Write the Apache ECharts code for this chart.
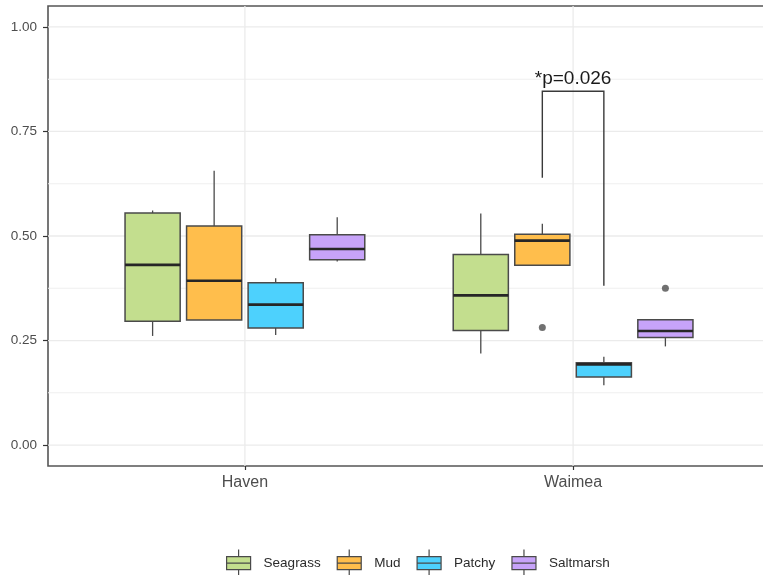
<!DOCTYPE html>
<html>
<head>
<meta charset="utf-8">
<title>Habitat proportions by site</title>
<script src="https://cdn.jsdelivr.net/npm/echarts@6/dist/echarts.min.js"></script>
<style>
  html, body { margin: 0; padding: 0; background: #ffffff; }
  #chart { width: 763px; height: 575px; }
</style>
</head>
<body>
<div id="chart"></div>
<script>
// Sites along the x axis and habitat groups dodged within each site
const sites = ['Haven', 'Waimea'];
const habitats = ['Seagrass', 'Mud', 'Patchy', 'Saltmarsh'];

// Box statistics per site: [lower whisker, Q1, median, Q3, upper whisker]
const seagrass  = [[0.261, 0.296, 0.431, 0.555, 0.561], [0.219, 0.274, 0.358, 0.456, 0.554]];
const mud       = [[0.299, 0.299, 0.393, 0.524, 0.656], [0.430, 0.430, 0.489, 0.504, 0.529]];
const patchy    = [[0.263, 0.280, 0.336, 0.388, 0.399], [0.143, 0.163, 0.193, 0.197, 0.211]];
const saltmarsh = [[0.439, 0.443, 0.469, 0.503, 0.545], [0.236, 0.257, 0.273, 0.300, 0.300]];

// Outlying points: [site index, habitat, value]
const outliers = [[1, 'Mud', 0.281], [1, 'Saltmarsh', 0.375]];

// Axis ticks
const yTicks = [0, 0.25, 0.5, 0.75, 1];
const yMinor = [0.125, 0.375, 0.625, 0.875];

// Significance bracket between Waimea Mud and Waimea Patchy
const sigLabel = '*p=0.026';
const sigPair = [1, 'Mud', 'Patchy'];
const sigBarY = 0.846;
const sigTailEnds = [0.639, 0.381];

const statsByHabitat = { Seagrass: seagrass, Mud: mud, Patchy: patchy, Saltmarsh: saltmarsh };
const fills = { Seagrass: '#c3de8e', Mud: '#ffbe4c', Patchy: '#4dd1fd', Saltmarsh: '#c7a3f9' };

const DODGE = 0.1875;   // slot width of each habitat within a site
const BOX_W = 0.168;    // drawn box width in x units
const EDGE = '#4a4a4a';

function dodgeX(siteIdx, habitat) {
  return siteIdx + 1 + (habitats.indexOf(habitat) - 1.5) * DODGE;
}

function renderBox(params, api) {
  const x = api.value(0);
  const lo = api.coord([x, api.value(1)]);
  const q1 = api.coord([x, api.value(2)]);
  const md = api.coord([x, api.value(3)]);
  const q3 = api.coord([x, api.value(4)]);
  const hi = api.coord([x, api.value(5)]);
  const xl = api.coord([x - BOX_W / 2, 0])[0];
  const xr = api.coord([x + BOX_W / 2, 0])[0];
  const children = [];
  if (hi[1] < q3[1] - 0.5) {
    children.push({ type: 'line', shape: { x1: hi[0], y1: hi[1], x2: q3[0], y2: q3[1] },
      style: { stroke: EDGE, lineWidth: 1.3 } });
  }
  if (lo[1] > q1[1] + 0.5) {
    children.push({ type: 'line', shape: { x1: q1[0], y1: q1[1], x2: lo[0], y2: lo[1] },
      style: { stroke: EDGE, lineWidth: 1.3 } });
  }
  children.push({ type: 'rect', shape: { x: xl, y: q3[1], width: xr - xl, height: q1[1] - q3[1] },
    style: { fill: api.visual('color'), stroke: EDGE, lineWidth: 1.5 } });
  children.push({ type: 'line', shape: { x1: xl, y1: md[1], x2: xr, y2: md[1] },
    style: { stroke: '#262626', lineWidth: 2.6 } });
  return { type: 'group', children: children };
}

function renderGrid(params, api) {
  const kind = api.value(0);
  const v = api.value(1);
  let p1, p2;
  if (kind === 0 || kind === 1) {
    p1 = api.coord([0.4, v]); p2 = api.coord([2.6, v]);
  } else {
    p1 = api.coord([v, -0.05]); p2 = api.coord([v, 1.05]);
  }
  return { type: 'line', shape: { x1: p1[0], y1: p1[1], x2: p2[0], y2: p2[1] },
    style: { stroke: kind === 1 ? '#efefef' : '#ebebeb', lineWidth: kind === 1 ? 1.1 : 1.3 } };
}

function renderBracket(params, api) {
  const xa = api.value(0), xb = api.value(1);
  const top = api.value(2), endA = api.value(3), endB = api.value(4);
  const a0 = api.coord([xa, endA]), a1 = api.coord([xa, top]);
  const b1 = api.coord([xb, top]), b0 = api.coord([xb, endB]);
  return {
    type: 'group',
    children: [
      { type: 'polyline', shape: { points: [a0, a1, b1, b0] },
        style: { stroke: '#3a3a3a', lineWidth: 1.4, fill: null } },
      { type: 'text', x: (a1[0] + b1[0]) / 2, y: a1[1] - 3,
        style: { text: sigLabel, fill: '#1a1a1a', font: '19px "Liberation Sans", Arial, sans-serif',
          align: 'center', verticalAlign: 'bottom' } }
    ]
  };
}

const gridData = [];
yTicks.forEach(v => gridData.push([0, v]));
yMinor.forEach(v => gridData.push([1, v]));
sites.forEach((s, i) => gridData.push([2, i + 1]));

const boxSeries = habitats.map(h => ({
  name: h,
  type: 'custom',
  renderItem: renderBox,
  itemStyle: { color: fills[h], borderColor: EDGE, borderWidth: 1.2 },
  encode: { x: 0, y: [1, 2, 3, 4, 5] },
  data: statsByHabitat[h].map((st, i) => [dodgeX(i, h)].concat(st)),
  z: 3,
  silent: true
}));

const legendIcon = 'path://M12,0L12,7M0,7L24,7L24,20L0,20ZM0,13.5L24,13.5M12,20L12,27';

const option = {
  animation: false,
  grid: { left: 48, top: 6, width: 722, height: 460, show: true, outerBoundsMode: 'none',
    containLabel: false,
    borderColor: '#555555', borderWidth: 1.6, backgroundColor: 'transparent' },
  xAxis: {
    type: 'value', min: 0.4, max: 2.6,
    axisLine: { show: false, onZero: false },
    splitLine: { show: false },
    axisTick: { show: true, customValues: [1, 2], length: 4, lineStyle: { color: '#333333', width: 1.2 } },
    axisLabel: { customValues: [1, 2], formatter: v => sites[Math.round(v) - 1] || '',
      color: '#4d4d4d', fontSize: 16, fontFamily: '"Liberation Sans", Arial, sans-serif', margin: 9 }
  },
  yAxis: {
    type: 'value', min: -0.05, max: 1.05,
    axisLine: { show: false, onZero: false },
    splitLine: { show: false },
    axisTick: { show: true, customValues: yTicks, length: 5, lineStyle: { color: '#333333', width: 1.2 } },
    axisLabel: { customValues: yTicks, formatter: v => v.toFixed(2),
      color: '#4d4d4d', fontSize: 13.5, fontFamily: '"Liberation Sans", Arial, sans-serif', margin: 11 }
  },
  legend: {
    data: habitats.map(h => ({ name: h, icon: legendIcon })),
    left: 226, top: 549, padding: 0,
    itemWidth: 24, itemHeight: 27, itemGap: 16,
    itemStyle: { borderColor: EDGE, borderWidth: 1.2 },
    textStyle: { fontSize: 13.5, color: '#2b2b2b', fontFamily: '"Liberation Sans", Arial, sans-serif',
      padding: [0, 0, 0, 8] },
    selectedMode: false
  },
  series: [
    {
      name: 'grid', type: 'custom', renderItem: renderGrid,
      encode: { x: -1, y: -1 }, data: gridData, z: 0, silent: true
    }
  ].concat(boxSeries).concat([
    {
      name: 'outliers', type: 'scatter', symbolSize: 7, z: 4, silent: true,
      itemStyle: { color: '#4d4d4d' },
      data: outliers.map(o => [dodgeX(o[0], o[1]), o[2]])
    },
    {
      name: 'significance', type: 'custom', renderItem: renderBracket, z: 5, silent: true,
      encode: { x: [0, 1], y: [2, 3, 4] },
      data: [[dodgeX(sigPair[0], sigPair[1]), dodgeX(sigPair[0], sigPair[2]), sigBarY,
        sigTailEnds[0], sigTailEnds[1]]]
    }
  ])
};

const chart = echarts.init(document.getElementById('chart'), null, { renderer: 'canvas' });
chart.setOption(option);
</script>
</body>
</html>
